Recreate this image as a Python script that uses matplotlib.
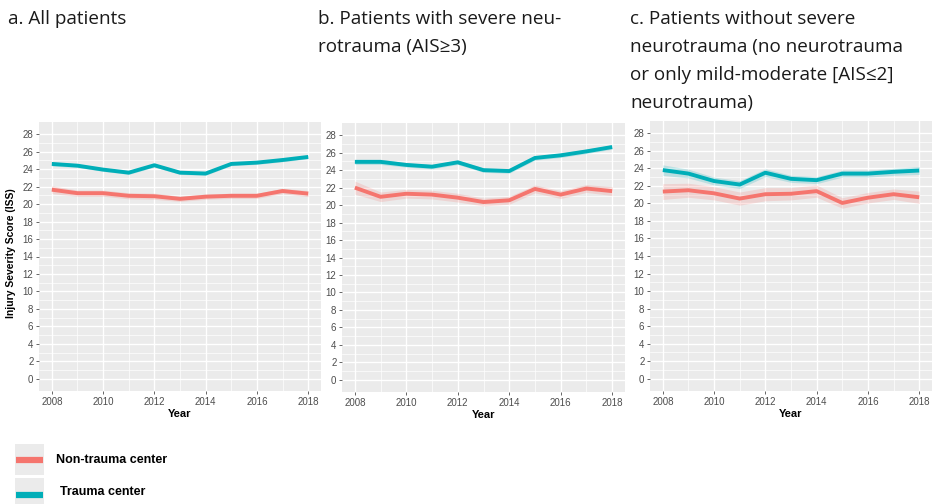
import matplotlib

matplotlib.use("Agg")
import matplotlib.pyplot as plt
import numpy as np
from matplotlib import font_manager

W, H = 933, 504

years = np.arange(2008, 2019)

# panel a: all patients
a_trauma = [24.6, 24.4, 23.95, 23.6, 24.45, 23.6, 23.5, 24.6, 24.75, 25.05, 25.4]
a_trauma_ci = [0.25, 0.2, 0.2, 0.2, 0.2, 0.2, 0.2, 0.2, 0.2, 0.2, 0.2]
a_non = [21.65, 21.25, 21.25, 20.95, 20.9, 20.6, 20.85, 20.95, 20.95, 21.5, 21.2]
a_non_ci = [0.45, 0.35, 0.35, 0.35, 0.35, 0.3, 0.3, 0.3, 0.3, 0.3, 0.35]

# panel b: severe neurotrauma
b_trauma = [24.95, 24.95, 24.6, 24.4, 24.9, 24.0, 23.9, 25.4, 25.7, 26.15, 26.65]
b_trauma_ci = [0.3, 0.3, 0.25, 0.25, 0.25, 0.25, 0.25, 0.25, 0.25, 0.25, 0.25]
b_non = [22.0, 20.95, 21.3, 21.2, 20.85, 20.35, 20.55, 21.85, 21.2, 21.9, 21.6]
b_non_ci = [0.75, 0.55, 0.5, 0.5, 0.5, 0.45, 0.45, 0.45, 0.45, 0.45, 0.5]

# panel c: no severe neurotrauma
c_trauma = [23.8, 23.4, 22.55, 22.15, 23.5, 22.8, 22.65, 23.4, 23.4, 23.6, 23.75]
c_trauma_ci = [0.6, 0.5, 0.45, 0.45, 0.45, 0.4, 0.4, 0.4, 0.4, 0.4, 0.45]
c_non = [21.35, 21.5, 21.15, 20.55, 21.05, 21.1, 21.4, 20.05, 20.65, 21.05, 20.7]
c_non_ci = [0.9, 0.8, 0.75, 0.75, 0.75, 0.7, 0.7, 0.6, 0.6, 0.6, 0.7]

titles = [
    "a. All patients",
    "b. Patients with severe neu-\nrotrauma (AIS\u22653)",
    "c. Patients without severe\nneurotrauma (no neurotrauma\n"
    "or only mild-moderate [AIS\u22642]\nneurotrauma)",
]
legend_labels = ["Non-trauma center", "Trauma center"]

RED = "#F5756E"
TEAL = "#00AEB8"

installed = {f.name for f in font_manager.fontManager.ttflist}
title_font = ["Liberation Sans Narrow", "Open Sans", "DejaVu Sans"]
title_font = [f for f in title_font if f in installed] + ["DejaVu Sans"]
plt.rcParams["font.family"] = ["Liberation Sans", "DejaVu Sans"]

fig = plt.figure(figsize=(W / 100, H / 100), dpi=100)


def px_axes(left, right, top, bottom):
    return fig.add_axes([left / W, 1 - bottom / H, (right - left) / W,
                         (bottom - top) / H])


panels = [
    ((39, 321, 122, 391), a_trauma, a_trauma_ci, a_non, a_non_ci),
    ((342, 625, 123, 392), b_trauma, b_trauma_ci, b_non, b_non_ci),
    ((650, 932, 121, 391), c_trauma, c_trauma_ci, c_non, c_non_ci),
]
title_x = [8, 318, 630]

for k, (box, tr, tr_ci, nt, nt_ci) in enumerate(panels):
    ax = px_axes(*box)
    ax.set_facecolor("#EBEBEB")
    for s in ax.spines.values():
        s.set_visible(False)
    ax.set_xlim(2007.5, 2018.5)
    ax.set_ylim(-1.4, 29.4)
    ax.set_xticks(range(2008, 2019, 2))
    ax.set_xticks(range(2009, 2019, 2), minor=True)
    ax.set_yticks(range(0, 29, 2))
    ax.set_yticks(range(1, 29, 2), minor=True)
    ax.grid(which="major", color="white", lw=1.0)
    ax.grid(which="minor", color="white", lw=0.5)
    ax.set_axisbelow(True)
    ax.tick_params(which="major", labelsize=7, colors="#4D4D4D", length=2.5,
                   width=0.6, pad=1.5)
    ax.tick_params(which="minor", length=0)
    tr, tr_ci, nt, nt_ci = map(np.asarray, (tr, tr_ci, nt, nt_ci))
    ax.fill_between(years, nt - nt_ci, nt + nt_ci, color=RED, alpha=0.2, lw=0)
    ax.fill_between(years, tr - tr_ci, tr + tr_ci, color=TEAL, alpha=0.2, lw=0)
    ax.plot(years, nt, color=RED, lw=2.8, solid_capstyle="butt")
    ax.plot(years, tr, color=TEAL, lw=2.8, solid_capstyle="butt")
    ax.set_xlabel("Year", fontsize=8, fontweight="bold", labelpad=2)
    fig.text(title_x[k] / W, 1 - 10 / H, titles[k], ha="left", va="top",
             fontsize=13.6, family=title_font, color="#1a1a1a", linespacing=1.72)

fig.text(11 / W, 1 - 253 / H, "Injury Severity Score (ISS)", rotation=90,
         ha="center", va="center", fontsize=7.5, fontweight="bold")

# legend
for i, (lab, col) in enumerate(zip(legend_labels, [RED, TEAL])):
    top = 444 + i * 34
    kax = px_axes(15, 44, top, top + 31)
    kax.set_facecolor("#EBEBEB")
    kax.set_xticks([])
    kax.set_yticks([])
    for s in kax.spines.values():
        s.set_visible(False)
    kax.set_xlim(0, 1)
    kax.set_ylim(0, 1)
    kax.plot([0.05, 0.95], [0.5 if i == 0 else 0.45] * 2, color=col, lw=4.5,
             solid_capstyle="butt")
    fig.text((56 + 4 * i) / W, 1 - (top + 16 - 2 * i) / H, lab, ha="left",
             va="center", fontsize=9, fontweight="bold")

fig.savefig("out.png", dpi=100)
